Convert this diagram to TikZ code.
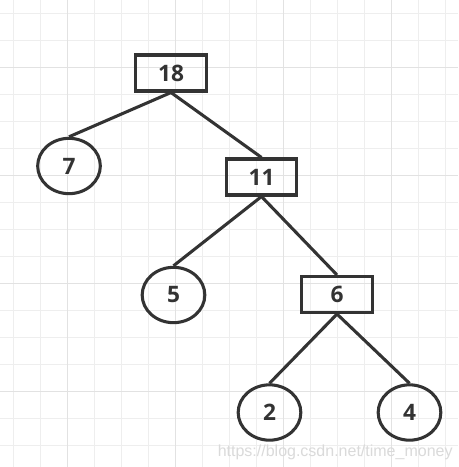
\documentclass[tikz,border=0pt]{standalone}
\usepackage{fontspec}
\setmainfont{Open Sans}
\newfontfamily\markfont{Liberation Sans}
\usetikzlibrary{shapes.geometric}

\definecolor{inkgray}{HTML}{333333}
\definecolor{minorgrid}{HTML}{EEEEEE}
\definecolor{majorgrid}{HTML}{E2E2E2}
\definecolor{markgray}{HTML}{DADADA}

\begin{document}
\begin{tikzpicture}[x=0.75pt, y=-0.75pt,
    every node/.style={font=\fontsize{17}{20}\selectfont\bfseries, text=inkgray},
    sumbox/.style={draw=inkgray, line width=2.3pt, rectangle, minimum width=53pt, minimum height=27pt, inner sep=0pt},
    leaf/.style={draw=inkgray, line width=2.3pt, ellipse, minimum width=47pt, minimum height=41.5pt, inner sep=0pt},
    branch/.style={draw=inkgray, line width=2.3pt}]
    \useasboundingbox (0,0) rectangle (458,467);
    \fill[white] (0,0) rectangle (458,467);
    % background grid
    \foreach \g in {13.7,40.7,...,460} {
      \draw[minorgrid, line width=0.75pt] (\g,0) -- (\g,467);
      \draw[minorgrid, line width=0.75pt] (0,\g) -- (458,\g);
    }
    \foreach \g in {67.7,175.7,283.7,391.7} {
      \draw[majorgrid, line width=0.9pt] (\g,0) -- (\g,467);
      \draw[majorgrid, line width=0.9pt] (0,\g) -- (458,\g);
    }
    % tree
    \node[sumbox] (n18) at (171,73) {18};
    \node[leaf] (n7) at (69,166) {7};
    \node[sumbox] (n11) at (261.5,177) {11};
    \node[leaf] (n5) at (173.5,295) {5};
    \node[sumbox] (n6) at (337,294.5) {6};
    \node[leaf] (n2) at (269.5,412.5) {2};
    \node[leaf] (n4) at (409.5,412.5) {4};
    \draw[branch] (n18.south) -- (n7.north);
    \draw[branch] (n18.south) -- (n11.north);
    \draw[branch] (n11.south) -- (n5.north);
    \draw[branch] (n11.south) -- (n6.north);
    \draw[branch] (n6.south) -- (n2.north);
    \draw[branch] (n6.south) -- (n4.north);
    % watermark
    \node[font=\markfont\fontsize{12}{14}\selectfont, text=markgray, anchor=base west, inner sep=0pt] (mark) at (217.5,456.5) {https://blog.csdn.net/time\_money};
  \end{tikzpicture}
\end{document}
